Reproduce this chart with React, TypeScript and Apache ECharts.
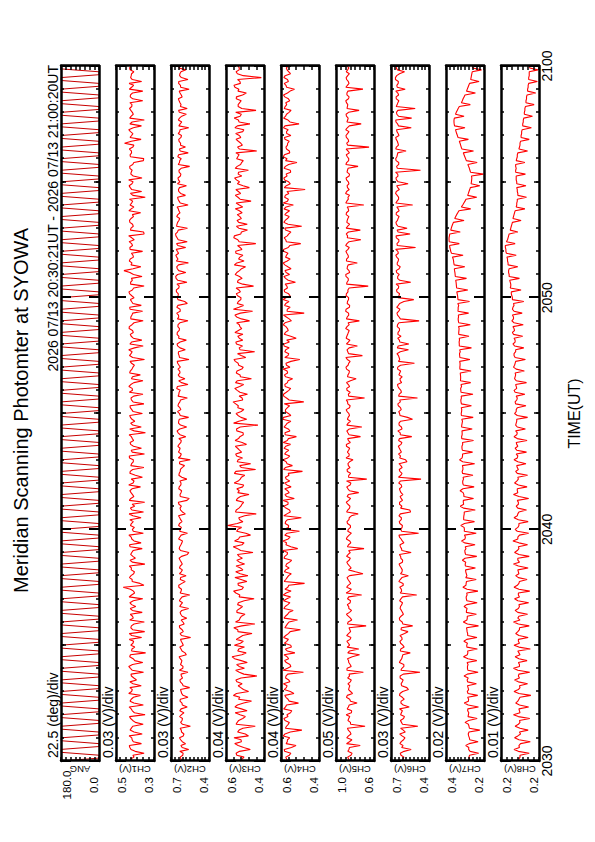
import React, { useEffect, useRef } from "react";
import * as echarts from "echarts";

// ---------- texts ----------
const TITLE = "Meridian Scanning Photomter at SYOWA";
const PERIOD_TEXT = "2026 07/13 20:30:21UT - 2026 07/13 21:00:20UT";
const TIME_LABELS = ["2030", "2040", "2050", "2100"];
const TIME_NAME = "TIME(UT)";
const PANEL_NAMES = ["ANG", "CH1(V)", "CH2(V)", "CH3(V)", "CH4(V)", "CH5(V)", "CH6(V)", "CH7(V)", "CH8(V)"];
const SCALE_TEXTS = [
  "22.5 (deg)/div", "0.03 (V)/div", "0.03 (V)/div", "0.04 (V)/div", "0.04 (V)/div",
  "0.05 (V)/div", "0.03 (V)/div", "0.02 (V)/div", "0.01 (V)/div",
];
const TOP_LABELS = ["180.0", "0.5", "0.7", "0.6", "0.6", "1.0", "0.7", "0.4", "0.2"];
const BOTTOM_LABELS = ["0.0", "0.3", "0.4", "0.4", "0.4", "0.6", "0.4", "0.2", "0.2"];
const AXIS_MAX = [180, 0.5, 0.7, 0.6, 0.6, 1.0, 0.7, 0.4, 0.24];
const AXIS_MIN = [0, 0.3, 0.4, 0.4, 0.4, 0.6, 0.4, 0.2, 0.17];
const AXIS_STEP = [22.5, 0.03, 0.03, 0.04, 0.04, 0.05, 0.03, 0.02, 0.01];

// time in minutes after 20:30 UT
const TIME_MIN = 0;
const TIME_MAX = 30;
const ANG_STEP_MIN = 0.125; // 7.5 s
const CH_STEP_MIN = 1 / 6; // 10 s; the *_B samples sit 5 s after each *_A sample

// ---------- data ----------
// scan angle (deg), one value every 7.5 s
const ANG_DEG = [
  180, 0, 0, 180, 180, 0, 0, 180,
  180, 0, 0, 180, 180, 0, 0, 180,
  180, 0, 0, 180, 180, 0, 0, 180,
  180, 0, 0, 180, 180, 0, 0, 180,
  180, 0, 0, 180, 180, 0, 0, 180,
  180, 0, 0, 180, 180, 0, 0, 180,
  180, 0, 0, 180, 180, 0, 0, 180,
  180, 0, 0, 180, 180, 0, 0, 180,
  180, 0, 0, 180, 180, 0, 0, 180,
  180, 0, 0, 180, 180, 0, 0, 180,
  180, 0, 0, 180, 180, 0, 0, 180,
  180, 0, 0, 180, 180, 0, 0, 180,
  180, 0, 0, 180, 180, 0, 0, 180,
  180, 0, 0, 180, 180, 0, 0, 180,
  180, 0, 0, 180, 180, 0, 0, 180,
  180, 0, 0, 180, 180, 0, 0, 180,
  180, 0, 0, 180, 180, 0, 0, 180,
  180, 0, 0, 180, 180, 0, 0, 180,
  180, 0, 0, 180, 180, 0, 0, 180,
  180, 0, 0, 180, 180, 0, 0, 180,
  180, 0, 0, 180, 180, 0, 0, 180,
  180, 0, 0, 180, 180, 0, 0, 180,
  180, 0, 0, 180, 180, 0, 0, 180,
  180, 0, 0, 180, 180, 0, 0, 180,
  180, 0, 0, 180, 180, 0, 0, 180,
  180, 0, 0, 180, 180, 0, 0, 180,
  180, 0, 0, 180, 180, 0, 0, 180,
  180, 0, 0, 180, 180, 0, 0, 180,
  180, 0, 0, 180, 180, 0, 0, 180,
  180, 0, 0, 180, 180, 0, 0, 180,
  180,
];

// photometer channels in mV
const CH1_A = [
  418, 405, 352, 421, 430, 409, 417, 362, 426, 412,
  398, 423, 347, 414, 431, 406, 420, 371, 418, 427,
  410, 392, 419, 355, 424, 413, 401, 428, 344, 416,
  422, 407, 365, 430, 412, 419, 351, 409, 425, 414,
  396, 427, 359, 418, 408, 462, 374, 415, 421, 403,
  419, 348, 426, 411, 417, 362, 429, 405, 420, 356,
  414, 424, 409, 368, 431, 416, 402, 349, 422, 413,
  427, 371, 410, 420, 398, 425, 353, 418, 409, 430,
  415, 366, 423, 407, 419, 345, 428, 412, 401, 424,
  361, 417, 426, 410, 421, 358, 413, 432, 406, 419,
  372, 425, 411, 418, 350, 429, 415, 403, 427, 364,
  420, 409, 431, 416, 357, 422, 412, 426, 367, 418,
  405, 428, 414, 352, 423, 419, 408, 458, 369, 416,
  425, 411, 360, 427, 418, 404, 433, 355, 421, 413,
  429, 408, 370, 420, 426, 412, 346, 424, 417, 431,
  410, 363, 422, 415, 428, 406, 354, 426, 419, 411,
  455, 368, 418, 424, 409, 427, 351, 420, 414, 429,
  416, 359, 425, 413, 430, 407, 365, 423, 418, 426,
  421,
];
const CH1_B = [
  424, 411, 399, 427, 366, 415, 431, 405, 419, 357,
  412, 429, 403, 420, 356, 426, 408, 433, 414, 367,
  427, 406, 421, 414, 433, 359, 410, 424, 418, 401,
  411, 430, 417, 349, 422, 405, 428, 413, 362, 425,
  418, 409, 431, 402, 424, 353, 415, 429, 407, 420,
  430, 414, 398, 423, 410, 426, 368, 417, 432, 409,
  403, 419, 427, 411, 355, 424, 415, 430, 406, 421,
  416, 433, 405, 361, 427, 412, 422, 409, 429, 350,
  420, 408, 426, 414, 431, 404, 367, 423, 416, 428,
  410, 425, 353, 419, 407, 430, 415, 422, 358, 413,
  428, 416, 403, 426, 412, 421, 433, 357, 418, 409,
  425, 413, 430, 405, 422, 416, 360, 428, 411, 424,
  417, 432, 407, 423, 414, 363, 427, 410, 421, 430,
  408, 419, 426, 413, 431, 417, 352, 424, 409, 427,
  421, 414, 432, 406, 418, 429, 411, 365, 425, 416,
  433, 409, 420, 427, 412, 356, 424, 418, 430, 406,
  419, 426, 411, 433, 366, 415, 428, 409, 422, 417,
  427, 412, 424, 359, 418, 431, 414, 420, 406, 428,
];
const CH2_A = [
  615, 628, 604, 560, 622, 611, 633, 598, 619, 547,
  624, 609, 617, 631, 572, 613, 626, 605, 620, 553,
  611, 630, 618, 566, 607, 625, 614, 636, 589, 621,
  603, 619, 545, 628, 612, 634, 606, 576, 623, 615,
  631, 609, 625, 552, 620, 638, 614, 627, 581, 619,
  633, 611, 628, 617, 559, 635, 622, 609, 630, 570,
  626, 640, 613, 631, 587, 624, 618, 642, 556, 629,
  616, 635, 621, 575, 638, 627, 612, 633, 548, 625,
  641, 628, 636, 619, 583, 644, 631, 625, 639, 561,
  634, 622, 645, 630, 571, 638, 627, 649, 618, 590,
  643, 631, 626, 647, 558, 636, 641, 629, 652, 579,
  637, 650, 633, 644, 566, 639, 655, 628, 646, 592,
  651, 642, 658, 635, 574, 660, 648, 639, 655, 563,
  645, 662, 650, 584, 656, 643, 661, 649, 570, 653,
  638, 655, 629, 642, 565, 636, 648, 624, 641, 578,
  630, 645, 622, 637, 553, 633, 619, 640, 627, 586,
  624, 639, 617, 631, 560, 628, 642, 615, 634, 572,
  621, 636, 612, 629, 557, 625, 638, 618, 630, 582,
  626,
];
const CH2_B = [
  621, 607, 630, 612, 585, 624, 603, 617, 628, 609,
  613, 632, 598, 620, 611, 629, 566, 616, 625, 604,
  626, 609, 621, 634, 605, 618, 627, 579, 613, 630,
  610, 625, 617, 603, 631, 596, 620, 612, 628, 561,
  622, 634, 612, 628, 617, 639, 588, 624, 633, 610,
  627, 619, 636, 571, 625, 631, 614, 640, 620, 632,
  618, 633, 624, 641, 610, 629, 637, 574, 627, 621,
  639, 622, 630, 615, 635, 626, 593, 631, 642, 619,
  633, 646, 622, 638, 629, 652, 576, 641, 635, 627,
  648, 630, 641, 625, 644, 636, 655, 566, 639, 632,
  629, 645, 637, 651, 633, 642, 587, 648, 628, 640,
  652, 635, 646, 630, 649, 641, 627, 654, 571, 645,
  644, 657, 639, 653, 646, 663, 583, 650, 641, 658,
  655, 640, 659, 646, 572, 652, 664, 643, 656, 648,
  631, 646, 638, 652, 627, 644, 586, 639, 633, 649,
  641, 626, 636, 620, 643, 631, 646, 564, 634, 625,
  636, 621, 643, 629, 638, 615, 633, 579, 640, 626,
  629, 642, 619, 635, 624, 640, 566, 632, 621, 637,
];
const CH3_A = [
  528, 505, 547, 472, 536, 519, 558, 498, 531, 446,
  541, 512, 526, 489, 553, 507, 534, 561, 481, 522,
  515, 548, 437, 530, 503, 544, 520, 568, 494, 533,
  556, 509, 529, 463, 538, 517, 550, 526, 500, 542,
  513, 535, 452, 527, 560, 508, 537, 521, 485, 549,
  524, 502, 543, 531, 458, 539, 516, 555, 528, 496,
  537, 592, 511, 533, 441, 546, 522, 507, 540, 479,
  530, 512, 557, 525, 501, 548, 519, 470, 536, 544,
  518, 539, 492, 552, 527, 510, 545, 432, 533, 521,
  547, 506, 535, 563, 515, 487, 541, 528, 550, 466,
  526, 542, 509, 536, 558, 520, 449, 531, 545, 512,
  538, 553, 517, 530, 476, 544, 524, 561, 508, 535,
  521, 546, 532, 455, 540, 515, 552, 529, 497, 543,
  534, 511, 549, 526, 443, 538, 556, 519, 533, 488,
  542, 527, 515, 551, 530, 468, 537, 523, 548, 510,
  529, 555, 536, 482, 541, 518, 544, 531, 438, 539,
  522, 547, 530, 512, 553, 474, 535, 526, 549, 517,
  536, 520, 545, 493, 532, 558, 527, 414, 540, 531,
  537,
];
const CH3_B = [
  516, 543, 529, 507, 554, 521, 482, 539, 511, 547,
  533, 498, 552, 519, 540, 466, 527, 545, 508, 536,
  542, 521, 506, 549, 531, 488, 555, 517, 538, 503,
  524, 546, 512, 537, 559, 448, 530, 519, 543, 527,
  539, 504, 531, 548, 516, 535, 490, 553, 525, 511,
  547, 529, 514, 540, 523, 562, 505, 534, 471, 544,
  518, 541, 528, 502, 550, 532, 516, 546, 524, 538,
  543, 507, 536, 519, 556, 444, 528, 541, 513, 549,
  529, 551, 515, 534, 509, 543, 525, 560, 491, 537,
  520, 538, 549, 512, 531, 527, 554, 507, 540, 524,
  546, 517, 533, 551, 496, 539, 526, 513, 548, 530,
  511, 535, 527, 544, 519, 553, 460, 532, 541, 522,
  539, 524, 547, 512, 536, 529, 543, 518, 556, 505,
  527, 548, 516, 539, 531, 559, 522, 487, 545, 533,
  519, 541, 530, 512, 547, 526, 551, 535, 477, 540,
  545, 517, 534, 552, 523, 509, 538, 548, 529, 514,
  535, 522, 549, 506, 540, 531, 557, 519, 442, 536,
  528, 546, 513, 537, 553, 524, 539, 509, 547, 530,
];
const CH4_A = [
  562, 575, 548, 583, 521, 567, 554, 579, 490, 571,
  556, 585, 569, 543, 576, 508, 563, 580, 551, 572,
  587, 559, 574, 482, 566, 553, 581, 568, 527, 577,
  549, 570, 586, 561, 498, 573, 558, 584, 565, 536,
  578, 553, 569, 588, 547, 564, 476, 575, 560, 582,
  557, 571, 544, 580, 566, 512, 574, 589, 552, 568,
  583, 560, 576, 493, 569, 555, 586, 563, 530, 579,
  565, 547, 581, 572, 558, 487, 577, 568, 590, 554,
  573, 584, 550, 567, 519, 579, 562, 575, 548, 586,
  561, 576, 555, 480, 571, 587, 559, 578, 566, 539,
  582, 568, 553, 574, 501, 563, 580, 557, 585, 570,
  549, 577, 566, 588, 545, 572, 478, 567, 581, 558,
  574, 560, 583, 569, 524, 576, 555, 579, 564, 589,
  552, 571, 586, 562, 496, 575, 567, 548, 580, 563,
  578, 557, 570, 584, 535, 566, 581, 559, 473, 572,
  560, 585, 573, 551, 577, 516, 568, 582, 556, 574,
  565, 579, 548, 571, 587, 505, 563, 576, 558, 583,
  570, 554, 580, 566, 529, 574, 561, 585, 550, 568,
  562,
];
const CH4_B = [
  570, 556, 581, 545, 573, 566, 588, 551, 577, 562,
  579, 563, 550, 586, 571, 557, 574, 532, 583, 568,
  553, 576, 565, 589, 548, 572, 560, 584, 567, 545,
  582, 561, 575, 552, 580, 566, 513, 577, 558, 585,
  564, 587, 550, 573, 579, 559, 583, 568, 546, 576,
  575, 555, 584, 567, 590, 548, 571, 562, 580, 503,
  561, 578, 566, 585, 551, 574, 563, 588, 570, 557,
  580, 569, 554, 577, 562, 586, 540, 573, 565, 581,
  559, 575, 588, 561, 578, 553, 584, 567, 591, 548,
  577, 566, 583, 557, 586, 572, 549, 580, 563, 576,
  565, 589, 571, 548, 580, 559, 575, 584, 556, 520,
  583, 562, 574, 579, 557, 587, 568, 552, 575, 590,
  552, 581, 566, 578, 562, 585, 573, 547, 580, 567,
  576, 563, 587, 554, 572, 583, 559, 576, 491, 585,
  566, 580, 555, 573, 588, 561, 577, 569, 583, 551,
  581, 568, 549, 584, 560, 576, 588, 554, 571, 566,
  557, 582, 570, 562, 579, 553, 586, 571, 547, 578,
  575, 561, 587, 552, 570, 583, 566, 578, 559, 572,
];
const CH5_A = [
  852, 878, 831, 864, 745, 859, 887, 842, 871, 694,
  848, 866, 893, 835, 870, 778, 856, 881, 847, 862,
  874, 839, 858, 712, 883, 851, 868, 829, 876, 760,
  857, 885, 843, 869, 854, 683, 872, 848, 890, 836,
  866, 851, 879, 730, 860, 888, 845, 873, 857, 795,
  841, 875, 862, 889, 850, 705, 868, 855, 882, 838,
  871, 849, 884, 861, 767, 877, 853, 892, 846, 870,
  858, 887, 843, 676, 866, 881, 852, 874, 821, 863,
  880, 856, 891, 869, 742, 875, 860, 886, 848, 872,
  865, 893, 851, 878, 699, 870, 884, 857, 889, 788,
  874, 859, 895, 867, 881, 722, 876, 862, 890, 853,
  886, 870, 898, 861, 754, 882, 868, 894, 856, 879,
  867, 891, 875, 661, 884, 872, 897, 863, 880, 776,
  889, 873, 896, 860, 885, 738, 878, 869, 893, 857,
  882, 864, 890, 871, 707, 886, 874, 899, 861, 883,
  870, 894, 858, 879, 768, 888, 866, 892, 875, 652,
  887, 872, 895, 863, 881, 735, 877, 890, 868, 884,
  876, 897, 862, 885, 716, 880, 871, 893, 859, 878,
  883,
];
const CH5_B = [
  866, 843, 875, 858, 889, 832, 869, 851, 880, 846,
  874, 855, 838, 882, 861, 847, 890, 826, 868, 855,
  849, 877, 862, 885, 840, 866, 879, 752, 857, 883,
  870, 852, 888, 846, 863, 879, 834, 871, 858, 865,
  881, 847, 866, 893, 838, 872, 859, 884, 716, 868,
  858, 886, 849, 871, 867, 880, 844, 891, 862, 876,
  847, 879, 863, 838, 888, 857, 875, 866, 883, 761,
  874, 852, 889, 868, 846, 883, 870, 857, 894, 861,
  867, 890, 849, 877, 863, 886, 728, 872, 880, 858,
  883, 858, 876, 892, 866, 851, 887, 870, 848, 879,
  862, 889, 873, 851, 896, 868, 884, 775, 871, 893,
  877, 861, 884, 873, 890, 866, 898, 859, 882, 868,
  893, 874, 862, 888, 870, 895, 856, 883, 871, 890,
  869, 886, 874, 898, 863, 881, 892, 744, 877, 886,
  875, 893, 866, 882, 897, 870, 858, 888, 879, 864,
  889, 862, 884, 873, 896, 867, 881, 859, 893, 877,
  866, 891, 879, 897, 860, 885, 872, 894, 757, 880,
  890, 869, 885, 874, 896, 863, 888, 877, 892, 865,
];
const CH6_A = [
  612, 598, 627, 541, 605, 619, 590, 631, 603, 488,
  617, 601, 624, 610, 556, 622, 596, 633, 608, 575,
  620, 604, 628, 471, 614, 599, 626, 611, 548, 623,
  607, 630, 615, 593, 621, 529, 612, 634, 602, 618,
  625, 609, 622, 497, 616, 631, 605, 627, 563, 613,
  619, 636, 608, 624, 541, 617, 629, 611, 633, 482,
  623, 610, 635, 618, 626, 552, 614, 632, 620, 606,
  628, 615, 639, 463, 622, 630, 612, 637, 585, 625,
  618, 634, 621, 640, 536, 627, 613, 636, 624, 570,
  632, 619, 642, 626, 491, 635, 622, 645, 616, 629,
  638, 624, 647, 515, 631, 641, 627, 650, 559, 634,
  621, 644, 633, 648, 478, 636, 653, 629, 642, 598,
  645, 632, 656, 639, 544, 648, 635, 659, 627, 651,
  640, 662, 646, 506, 653, 638, 660, 644, 573, 657,
  649, 636, 658, 643, 529, 652, 640, 664, 634, 655,
  643, 661, 647, 467, 656, 639, 663, 650, 581, 658,
  645, 659, 637, 653, 540, 648, 662, 641, 657, 509,
  651, 638, 660, 646, 588, 654, 642, 665, 633, 649,
  652,
];
const CH6_B = [
  605, 621, 597, 616, 630, 601, 613, 587, 624, 609,
  626, 594, 618, 633, 603, 620, 611, 629, 562, 616,
  611, 628, 603, 622, 598, 634, 615, 607, 627, 596,
  624, 612, 629, 566, 618, 606, 631, 621, 610, 628,
  615, 632, 609, 627, 619, 603, 638, 614, 625, 611,
  629, 610, 622, 634, 614, 626, 598, 620, 637, 616,
  612, 630, 619, 637, 545, 624, 633, 609, 628, 621,
  633, 619, 626, 641, 613, 635, 622, 574, 631, 640,
  626, 642, 614, 633, 627, 646, 618, 637, 530, 629,
  639, 625, 646, 631, 640, 618, 636, 649, 627, 612,
  631, 648, 625, 641, 636, 653, 562, 643, 630, 647,
  646, 633, 651, 637, 626, 648, 639, 655, 632, 520,
  638, 653, 641, 660, 631, 647, 655, 636, 650, 643,
  655, 642, 663, 650, 638, 658, 549, 652, 645, 661,
  644, 659, 636, 654, 662, 640, 651, 658, 646, 565,
  657, 645, 664, 650, 639, 660, 654, 647, 662, 641,
  650, 663, 644, 656, 641, 661, 537, 654, 646, 659,
  646, 658, 640, 662, 651, 643, 665, 655, 593, 660,
];
const CH7_A = [
  274, 279, 228, 281, 296, 231, 277, 283, 222, 279,
  300, 236, 282, 286, 229, 304, 281, 233, 288, 284,
  240, 289, 305, 231, 287, 284, 238, 308, 285, 235,
  291, 306, 237, 286, 290, 229, 309, 288, 240, 292,
  305, 236, 293, 289, 232, 311, 294, 241, 290, 296,
  245, 299, 314, 238, 300, 295, 247, 318, 298, 241,
  303, 322, 250, 307, 304, 246, 325, 309, 255, 306,
  326, 252, 312, 308, 258, 315, 311, 249, 329, 313,
  260, 316, 312, 255, 318, 315, 262, 317, 313, 257,
  320, 317, 266, 321, 319, 258, 322, 318, 270, 323,
  324, 268, 327, 326, 274, 328, 325, 266, 330, 329,
  279, 333, 331, 272, 335, 334, 281, 336, 333, 276,
  338, 341, 285, 345, 347, 292, 352, 355, 301, 359,
  362, 310, 375, 380, 330, 384, 382, 325, 372, 365,
  305, 349, 338, 270, 312, 300, 238, 282, 275, 222,
  266, 264, 203, 274, 281, 236, 297, 305, 255, 320,
  326, 282, 340, 347, 300, 357, 358, 305, 346, 336,
  272, 314, 305, 245, 288, 280, 226, 268, 264, 213,
  258,
];
const CH7_B = [
  277, 276, 273, 280, 278, 275, 281, 279, 277, 282,
  281, 284, 280, 285, 283, 282, 286, 284, 281, 287,
  286, 283, 288, 285, 287, 289, 284, 288, 286, 290,
  287, 291, 286, 289, 292, 287, 290, 288, 293, 289,
  292, 290, 294, 291, 289, 295, 292, 296, 293, 297,
  298, 296, 300, 297, 301, 299, 302, 300, 303, 304,
  305, 303, 307, 306, 304, 308, 307, 309, 306, 310,
  311, 309, 312, 310, 313, 311, 314, 312, 315, 313,
  314, 316, 313, 317, 315, 316, 318, 315, 317, 319,
  318, 320, 319, 322, 320, 321, 323, 321, 324, 323,
  325, 327, 326, 328, 327, 329, 328, 330, 331, 330,
  333, 332, 334, 333, 336, 335, 337, 336, 338, 337,
  339, 343, 344, 346, 349, 351, 353, 356, 357, 360,
  366, 371, 377, 381, 383, 384, 380, 375, 369, 361,
  354, 344, 332, 319, 306, 295, 286, 279, 272, 268,
  265, 266, 271, 277, 285, 293, 301, 309, 316, 323,
  330, 337, 344, 350, 355, 358, 356, 350, 341, 330,
  319, 310, 300, 292, 284, 276, 270, 266, 262, 260,
];
const CH8_A = [
  212, 205, 188, 216, 207, 186, 215, 204, 190, 214,
  205, 187, 217, 206, 189, 213, 207, 185, 216, 205,
  191, 215, 208, 187, 217, 206, 192, 214, 207, 186,
  216, 208, 190, 213, 206, 188, 217, 209, 191, 214,
  206, 189, 215, 208, 187, 216, 207, 192, 213, 208,
  190, 217, 209, 188, 215, 207, 191, 218, 209, 189,
  214, 207, 190, 216, 209, 193, 212, 208, 189, 217,
  210, 192, 215, 208, 191, 213, 210, 194, 216, 209,
  193, 214, 211, 192, 216, 210, 195, 213, 211, 191,
  215, 212, 194, 214, 210, 196, 216, 212, 193, 215,
  213, 197, 217, 214, 195, 216, 213, 198, 218, 214,
  200, 219, 216, 199, 220, 217, 201, 219, 216, 198,
  219, 221, 203, 222, 223, 206, 225, 226, 209, 227,
  228, 212, 231, 232, 214, 228, 226, 209, 222, 220,
  203, 217, 215, 196, 211, 210, 193, 209, 210, 194,
  211, 212, 195, 213, 213, 196, 211, 210, 191, 206,
  205, 188, 203, 202, 184, 200, 199, 182, 197, 196,
  179, 194, 193, 176, 191, 190, 173, 189, 188, 172,
  187,
];
const CH8_B = [
  207, 205, 208, 206, 204, 207, 209, 206, 205, 208,
  206, 208, 205, 207, 206, 209, 205, 207, 208, 206,
  208, 206, 207, 209, 206, 208, 207, 205, 209, 207,
  206, 208, 207, 209, 206, 208, 205, 207, 209, 208,
  207, 209, 206, 208, 207, 210, 206, 208, 207, 209,
  208, 206, 209, 207, 210, 208, 207, 209, 206, 210,
  209, 207, 208, 210, 207, 209, 208, 210, 207, 209,
  210, 208, 211, 209, 210, 208, 211, 209, 210, 212,
  211, 209, 212, 210, 211, 213, 210, 212, 211, 210,
  212, 210, 213, 211, 212, 214, 211, 213, 212, 214,
  214, 212, 215, 213, 214, 216, 213, 215, 214, 216,
  217, 215, 218, 216, 217, 219, 216, 218, 217, 219,
  220, 221, 223, 222, 224, 225, 226, 225, 227, 228,
  229, 230, 231, 232, 230, 227, 225, 223, 221, 219,
  218, 216, 214, 212, 211, 210, 209, 210, 211, 211,
  212, 212, 213, 212, 213, 212, 210, 209, 207, 205,
  204, 203, 202, 201, 200, 199, 198, 197, 196, 195,
  194, 193, 192, 191, 190, 189, 189, 188, 188, 187,
];
const CHANNELS_A = [CH1_A, CH2_A, CH3_A, CH4_A, CH5_A, CH6_A, CH7_A, CH8_A];
const CHANNELS_B = [CH1_B, CH2_B, CH3_B, CH4_B, CH5_B, CH6_B, CH7_B, CH8_B];

// ---------- layout / style ----------
const W = 842;
const H = 595;
const FONT = '"Liberation Sans", Arial, Helvetica, sans-serif';
const GRID_LEFT = 81;
const GRID_WIDTH = 695;
const GRID_TOP0 = 61;
const GRID_PITCH = 55;
const GRID_HEIGHT = 38;
const BORDER = 2.5;
const TRACE_RED = "#ff0000";
const ANG_RED = "#c80000";

function channelPoints(a: number[], b: number[]): number[][] {
  const pts: number[][] = [];
  for (let i = 0; i < a.length; i++) {
    pts.push([TIME_MIN + i * CH_STEP_MIN, a[i] / 1000]);
    if (i < b.length) pts.push([TIME_MIN + (i + 0.5) * CH_STEP_MIN, b[i] / 1000]);
  }
  return pts;
}

function buildOption(): any {
  const n = PANEL_NAMES.length;
  const grids: any[] = [];
  const xAxes: any[] = [];
  const yAxes: any[] = [];
  const series: any[] = [];
  const graphics: any[] = [];

  for (let p = 0; p < n; p++) {
    const top = GRID_TOP0 + p * GRID_PITCH;
    grids.push({ left: GRID_LEFT, width: GRID_WIDTH, top, height: GRID_HEIGHT, containLabel: false });
    const last = p === n - 1;
    const baseX = {
      type: "value",
      gridIndex: p,
      min: TIME_MIN,
      max: TIME_MAX,
      z: 10,
      splitLine: { show: false },
      axisPointer: { show: false },
    };
    const majorX = (position: string, withLabels: boolean) => ({
      ...baseX,
      position,
      interval: 10,
      axisLine: { show: true, onZero: false, lineStyle: { color: "#000", width: BORDER } },
      axisTick: { show: true, inside: true, length: 10, lineStyle: { color: "#000", width: 2 } },
      minorTick: { show: true, splitNumber: 10, length: 3, lineStyle: { color: "#000", width: 1.5 } },
      axisLabel: {
        show: withLabels,
        margin: 1,
        fontSize: 14,
        fontFamily: FONT,
        color: "#000",
        formatter: (v: number) => TIME_LABELS[Math.round(v / 10)] ?? "",
      },
      name: withLabels ? TIME_NAME : "",
      nameLocation: "middle",
      nameGap: 27,
      nameMoveOverlap: false,
      nameTextStyle: { fontSize: 16, fontFamily: FONT, color: "#000" },
    });
    const midX = (position: string) => ({
      ...baseX,
      position,
      interval: 5,
      axisLine: { show: false, onZero: false },
      axisTick: { show: true, inside: true, length: 5, lineStyle: { color: "#000", width: 1.5 } },
      minorTick: { show: false },
      axisLabel: { show: false },
    });
    xAxes.push(majorX("bottom", last), majorX("top", false), midX("bottom"), midX("top"));

    const min = AXIS_MIN[p];
    const max = AXIS_MAX[p];
    const eps = (max - min) * 1e-6;
    const baseY = {
      type: "value",
      gridIndex: p,
      min,
      max,
      interval: AXIS_STEP[p],
      z: 10,
      splitLine: { show: false },
      axisLine: { show: true, onZero: false, lineStyle: { color: "#000", width: BORDER } },
      axisTick: { show: true, inside: true, length: 4, lineStyle: { color: "#000", width: 1.5 } },
    };
    yAxes.push({
      ...baseY,
      position: "left",
      axisLabel: {
        show: true,
        margin: 24,
        align: "center",
        fontSize: 11.5,
        fontFamily: FONT,
        color: "#000",
        formatter: (v: number) =>
          Math.abs(v - max) < eps ? `{hi|${TOP_LABELS[p]}}` : Math.abs(v - min) < eps ? `{lo|${BOTTOM_LABELS[p]}}` : "",
        rich: {
          hi: { fontSize: 11.5, fontFamily: FONT, color: "#000", padding: [11, 0, 0, 0] },
          lo: { fontSize: 11.5, fontFamily: FONT, color: "#000", padding: [0, 0, 11, 0] },
        },
      },
      name: PANEL_NAMES[p],
      nameLocation: "middle",
      nameGap: 3,
      nameMoveOverlap: false,
      nameTextStyle: { fontSize: 9.5, fontFamily: FONT, color: "#000" },
    });
    yAxes.push({ ...baseY, position: "right", axisLabel: { show: false } });

    if (p === 0) {
      series.push({
        type: "line",
        xAxisIndex: 0,
        yAxisIndex: 0,
        data: ANG_DEG.map((d, i) => [TIME_MIN + i * ANG_STEP_MIN, d]),
        symbol: "none",
        lineStyle: { color: ANG_RED, width: 1 },
        silent: true,
      });
    } else {
      series.push({
        type: "line",
        xAxisIndex: 4 * p,
        yAxisIndex: 2 * p,
        data: channelPoints(CHANNELS_A[p - 1], CHANNELS_B[p - 1]),
        symbol: "none",
        lineStyle: { color: TRACE_RED, width: 1.1 },
        silent: true,
      });
    }

    graphics.push({
      type: "text",
      x: GRID_LEFT + 3,
      y: top - 8,
      style: { text: SCALE_TEXTS[p], fontSize: 14, fontFamily: FONT, fill: "#000", align: "left", verticalAlign: "middle" },
    });
  }

  graphics.push({
    type: "text",
    x: GRID_LEFT + GRID_WIDTH / 2 + 3,
    y: 21,
    style: { text: TITLE, fontSize: 20, fontFamily: FONT, fill: "#000", align: "center", verticalAlign: "middle" },
  });
  graphics.push({
    type: "text",
    x: GRID_LEFT + GRID_WIDTH + 1,
    y: GRID_TOP0 - 8,
    style: { text: PERIOD_TEXT, fontSize: 14, fontFamily: FONT, fill: "#000", align: "right", verticalAlign: "middle" },
  });

  return {
    animation: false,
    backgroundColor: "#ffffff",
    grid: grids,
    xAxis: xAxes,
    yAxis: yAxes,
    series,
    graphic: graphics,
  };
}

export default function App() {
  const ref = useRef<HTMLDivElement>(null);
  useEffect(() => {
    const el = ref.current;
    if (!el) return;
    const chart = echarts.init(el, undefined, { renderer: "svg", width: W, height: H });
    chart.setOption(buildOption());
    return () => {
      chart.dispose();
    };
  }, []);
  return (
    <div
      style={{
        position: "fixed",
        left: 0,
        top: 0,
        width: H,
        height: W,
        overflow: "hidden",
        background: "#ffffff",
      }}
    >
      <div
        ref={ref}
        style={{
          position: "absolute",
          left: 0,
          top: 0,
          width: W,
          height: H,
          transformOrigin: "0 0",
          transform: `translateY(${W}px) rotate(-90deg)`,
        }}
      />
    </div>
  );
}
